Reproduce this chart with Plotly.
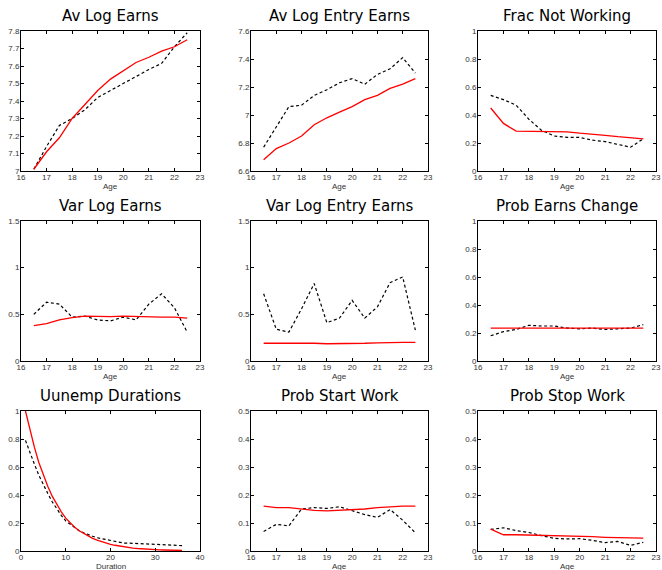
import plotly.graph_objects as go

W, H = 662, 570

age = [16.5, 17, 17.5, 18, 18.5, 19, 19.5, 20, 20.5, 21, 21.5, 22, 22.5]
duration = list(range(1, 37))

titles = ["Av Log Earns", "Av Log Entry Earns", "Frac Not Working",
          "Var Log Earns", "Var Log Entry Earns", "Prob Earns Change",
          "Uunemp Durations", "Prob Start Work", "Prob Stop Work"]

# model (red) and data (black dashed)
av_log_earns_model = [7.01, 7.11, 7.19, 7.30, 7.38, 7.46, 7.525, 7.57, 7.62, 7.65, 7.685, 7.71, 7.75]
av_log_earns_data = [7.01, 7.14, 7.26, 7.30, 7.35, 7.42, 7.46, 7.50, 7.54, 7.58, 7.615, 7.71, 7.79]

entry_earns_model = [6.68, 6.76, 6.80, 6.85, 6.93, 6.98, 7.02, 7.06, 7.11, 7.14, 7.19, 7.22, 7.26]
entry_earns_data = [6.77, 6.92, 7.06, 7.07, 7.14, 7.18, 7.23, 7.26, 7.22, 7.29, 7.33, 7.41, 7.30]

not_working_model = [0.45, 0.34, 0.285, 0.285, 0.285, 0.28, 0.28, 0.27, 0.265, 0.255, 0.245, 0.235, 0.23]
not_working_data = [0.54, 0.51, 0.47, 0.37, 0.29, 0.25, 0.24, 0.24, 0.22, 0.21, 0.19, 0.17, 0.23]

var_earns_model = [0.38, 0.40, 0.44, 0.465, 0.48, 0.475, 0.475, 0.48, 0.475, 0.47, 0.47, 0.47, 0.46]
var_earns_data = [0.50, 0.63, 0.61, 0.47, 0.48, 0.44, 0.43, 0.47, 0.44, 0.61, 0.72, 0.57, 0.31]

var_entry_model = [0.19, 0.19, 0.19, 0.195, 0.19, 0.185, 0.185, 0.19, 0.19, 0.195, 0.20, 0.20, 0.20]
var_entry_data = [0.72, 0.34, 0.31, 0.56, 0.83, 0.41, 0.46, 0.65, 0.46, 0.58, 0.84, 0.90, 0.33]

earns_change_model = [0.235, 0.235, 0.235, 0.237, 0.238, 0.238, 0.237, 0.236, 0.236, 0.235, 0.235, 0.235, 0.235]
earns_change_data = [0.18, 0.21, 0.225, 0.255, 0.25, 0.25, 0.235, 0.23, 0.235, 0.225, 0.23, 0.235, 0.26]

unemp_dur_model = [1.0, 0.86, 0.74, 0.63, 0.54, 0.46, 0.39, 0.33, 0.28, 0.235, 0.20, 0.17,
                   0.145, 0.125, 0.105, 0.09, 0.077, 0.066, 0.056, 0.048, 0.041, 0.035, 0.030, 0.025,
                   0.021, 0.018, 0.015, 0.013, 0.011, 0.009, 0.008, 0.007, 0.006, 0.005, 0.004, 0.004]
unemp_dur_data = [0.79, 0.70, 0.62, 0.54, 0.47, 0.41, 0.35, 0.30, 0.255, 0.215, 0.19, 0.165,
                  0.145, 0.13, 0.115, 0.105, 0.095, 0.088, 0.08, 0.072, 0.065, 0.058, 0.056, 0.056,
                  0.055, 0.054, 0.053, 0.052, 0.051, 0.05, 0.048, 0.046, 0.044, 0.042, 0.04, 0.038]

start_work_model = [0.16, 0.155, 0.155, 0.15, 0.145, 0.143, 0.145, 0.148, 0.15, 0.155, 0.158, 0.16, 0.16]
start_work_data = [0.07, 0.095, 0.09, 0.15, 0.155, 0.152, 0.158, 0.145, 0.13, 0.12, 0.148, 0.11, 0.065]

stop_work_model = [0.078, 0.058, 0.058, 0.057, 0.057, 0.056, 0.054, 0.053, 0.051, 0.049, 0.048, 0.047, 0.046]
stop_work_data = [0.077, 0.083, 0.073, 0.066, 0.055, 0.045, 0.043, 0.044, 0.038, 0.03, 0.034, 0.02, 0.031]

age_ticks = [16, 17, 18, 19, 20, 21, 22, 23]
dur_ticks = [0, 10, 20, 30, 40]

panels = [
    (age, av_log_earns_model, av_log_earns_data, [16, 23], [7, 7.8], 0.1, age_ticks, "Age"),
    (age, entry_earns_model, entry_earns_data, [16, 23], [6.6, 7.6], 0.2, age_ticks, "Age"),
    (age, not_working_model, not_working_data, [16, 23], [0, 1], 0.2, age_ticks, "Age"),
    (age, var_earns_model, var_earns_data, [16, 23], [0, 1.5], 0.5, age_ticks, "Age"),
    (age, var_entry_model, var_entry_data, [16, 23], [0, 1.5], 0.5, age_ticks, "Age"),
    (age, earns_change_model, earns_change_data, [16, 23], [0, 1], 0.2, age_ticks, "Age"),
    (duration, unemp_dur_model, unemp_dur_data, [0, 40], [0, 1], 0.2, dur_ticks, "Duration"),
    (age, start_work_model, start_work_data, [16, 23], [0, 0.5], 0.1, age_ticks, "Age"),
    (age, stop_work_model, stop_work_data, [16, 23], [0, 0.5], 0.1, age_ticks, "Age"),
]

# plot-area pixel boxes on the page (right column kept just inside the edge
# so its last tick label still fits in the figure)
col_px = [(21, 200), (251, 428), (478, 656)]
row_px = [(31, 171), (221, 361), (411, 551)]

fig = go.Figure()
layout = {}
annotations = []
tick_font = dict(family="Liberation Sans, Arial, sans-serif", size=8, color="#333333")


def px_x(p):
    return p / W


def px_y(p):
    return 1 - p / H


for i, (xs, model, data, xr, yr, dy, xt, xlabel) in enumerate(panels):
    r, c = divmod(i, 3)
    n = "" if i == 0 else str(i + 1)
    xa, ya = "x" + n, "y" + n
    x0, x1 = col_px[c]
    y0, y1 = row_px[r]
    xdom = [px_x(x0), px_x(x1)]
    ydom = [px_y(y1), px_y(y0)]
    fig.add_trace(go.Scatter(x=xs, y=data, mode="lines", xaxis=xa, yaxis=ya,
                             line=dict(color="black", width=1.2, dash="3px,2.5px"),
                             showlegend=False, hoverinfo="skip"))
    fig.add_trace(go.Scatter(x=xs, y=model, mode="lines", xaxis=xa, yaxis=ya,
                             line=dict(color="#ff0000", width=1.3),
                             showlegend=False, hoverinfo="skip"))
    common = dict(showline=True, linecolor="black", linewidth=1, mirror="ticks",
                  ticks="inside", ticklen=3, tickcolor="black", tickwidth=1,
                  showgrid=False, zeroline=False, tickfont=tick_font, fixedrange=True,
                  automargin=False, ticklabeloverflow="allow")
    layout["xaxis" + n] = dict(domain=xdom, anchor=ya, range=xr, tickvals=xt,
                               ticklabelstandoff=-2, **common)
    layout["yaxis" + n] = dict(domain=ydom, anchor=xa, range=yr, dtick=dy,
                               tick0=yr[0], ticklabelstandoff=-1, **common)
    annotations.append(dict(text=titles[i], x=px_x((x0 + x1) / 2), y=px_y(y0 - 15),
                            xref="paper", yref="paper", showarrow=False,
                            xanchor="center", yanchor="middle",
                            font=dict(family="DejaVu Sans", size=15, color="black")))
    annotations.append(dict(text=xlabel, x=px_x((x0 + x1) / 2), y=px_y(y1 + 15),
                            xref="paper", yref="paper", showarrow=False,
                            xanchor="center", yanchor="middle",
                            font=tick_font))

fig.update_layout(width=W, height=H, margin=dict(l=0, r=0, t=0, b=0),
                  paper_bgcolor="white", plot_bgcolor="white",
                  hovermode=False,
                  annotations=annotations, **layout)

# remove the browser's default 8px body margin so the figure fills the window
fig.write_html("out.html",
               config={"displayModeBar": False, "staticPlot": True},
               post_script="document.body.style.margin='0';document.body.style.overflow='hidden';")
